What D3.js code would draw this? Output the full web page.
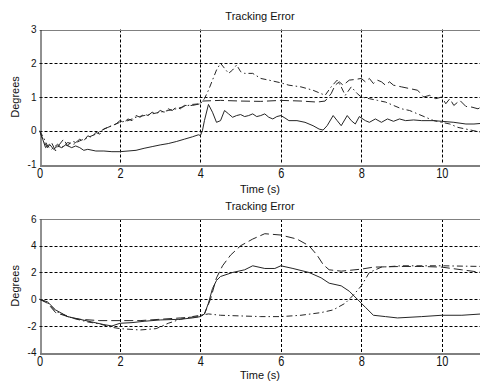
<!DOCTYPE html>
<html><head><meta charset="utf-8">
<script src="https://cdn.jsdelivr.net/npm/d3@7"></script>
<style>body{margin:0;background:#fff}svg{display:block}text{font-family:Arial,"Liberation Sans",sans-serif;fill:#111;font-weight:normal}</style>
</head><body><svg id="c" width="480" height="385"></svg>
<script>
// ---- data ----
const chartTitle = "Tracking Error";
const xLabel = "Time (s)";
const yLabel = "Degrees";
const xTicks = [0, 2, 4, 6, 8, 10];
const topYTicks = [-1, 0, 1, 2, 3];
const botYTicks = [-4, -2, 0, 2, 4, 6];

const topSolid = [[0,0],[0.08,-0.25],[0.15,-0.5],[0.25,-0.4],[0.35,-0.55],[0.45,-0.45],[0.55,-0.5],[0.65,-0.42],[0.8,-0.5],[0.9,-0.45],[1.0,-0.5],[1.1,-0.58],[1.2,-0.55],[1.4,-0.6],[1.6,-0.6],[1.8,-0.62],[2.0,-0.62],[2.2,-0.6],[2.4,-0.58],[2.6,-0.52],[2.8,-0.47],[3.0,-0.42],[3.2,-0.38],[3.4,-0.32],[3.6,-0.25],[3.8,-0.18],[3.95,-0.12],[4.0,-0.14],[4.05,0.0],[4.1,0.3],[4.2,0.78],[4.3,0.55],[4.4,0.25],[4.5,0.3],[4.6,0.6],[4.7,0.5],[4.8,0.4],[4.9,0.45],[5.0,0.48],[5.1,0.42],[5.2,0.45],[5.3,0.5],[5.4,0.42],[5.5,0.45],[5.6,0.5],[5.7,0.4],[5.8,0.35],[5.9,0.42],[6.0,0.45],[6.1,0.38],[6.2,0.3],[6.4,0.3],[6.6,0.25],[6.8,0.15],[6.95,0.05],[7.05,0.02],[7.15,0.15],[7.3,0.45],[7.4,0.3],[7.5,0.15],[7.65,0.45],[7.75,0.3],[7.85,0.2],[7.95,0.42],[8.1,0.3],[8.2,0.25],[8.35,0.35],[8.5,0.25],[8.65,0.35],[8.8,0.28],[8.95,0.35],[9.1,0.3],[9.3,0.32],[9.5,0.3],[9.8,0.3],[10.0,0.28],[10.3,0.25],[10.6,0.2],[10.8,0.2],[11.0,0.22]];
const topDashed = [[0,0],[0.1,-0.3],[0.2,-0.5],[0.3,-0.35],[0.4,-0.6],[0.5,-0.4],[0.6,-0.25],[0.7,-0.45],[0.8,-0.3],[0.9,-0.35],[1.0,-0.25],[1.1,-0.3],[1.2,-0.15],[1.3,-0.2],[1.4,-0.05],[1.5,-0.1],[1.6,0.05],[1.7,0.1],[1.8,0.15],[1.9,0.2],[2.0,0.3],[2.1,0.25],[2.2,0.35],[2.3,0.3],[2.4,0.45],[2.5,0.4],[2.6,0.5],[2.7,0.45],[2.8,0.55],[2.9,0.5],[3.0,0.6],[3.1,0.55],[3.2,0.65],[3.3,0.6],[3.4,0.7],[3.5,0.65],[3.6,0.75],[3.8,0.75],[4.0,0.8],[4.05,0.88],[4.5,0.9],[5.0,0.88],[5.5,0.87],[6.0,0.9],[6.5,0.88],[6.9,0.85],[7.1,0.88],[7.25,1.1],[7.35,1.35],[7.45,1.45],[7.55,1.35],[7.7,1.5],[7.85,1.52],[8.0,1.55],[8.1,1.45],[8.2,1.55],[8.3,1.4],[8.4,1.5],[8.5,1.45],[8.6,1.35],[8.7,1.45],[8.8,1.35],[9.0,1.3],[9.2,1.25],[9.4,1.2],[9.55,1.0],[9.7,1.05],[9.85,0.95],[10.0,1.0],[10.1,0.8],[10.2,0.95],[10.3,0.75],[10.45,0.9],[10.6,0.72],[10.75,0.7],[10.9,0.65],[11.0,0.72]];
const topDashDot = [[0,0],[0.1,-0.2],[0.2,-0.45],[0.3,-0.55],[0.45,-0.4],[0.55,-0.5],[0.7,-0.35],[0.85,-0.4],[1.0,-0.3],[1.2,-0.2],[1.4,-0.1],[1.6,0.05],[1.8,0.15],[2.0,0.25],[2.2,0.3],[2.4,0.4],[2.6,0.45],[2.8,0.5],[3.0,0.55],[3.2,0.6],[3.4,0.65],[3.6,0.72],[3.8,0.78],[4.0,0.8],[4.1,0.95],[4.2,1.2],[4.3,1.5],[4.4,1.8],[4.5,2.0],[4.6,1.85],[4.7,1.7],[4.8,1.8],[4.9,1.95],[5.0,1.75],[5.1,1.7],[5.3,1.7],[5.5,1.55],[5.7,1.5],[6.0,1.42],[6.2,1.35],[6.5,1.3],[6.8,1.2],[7.0,1.1],[7.1,1.05],[7.25,1.3],[7.4,1.5],[7.5,1.3],[7.6,1.05],[7.75,1.3],[7.9,1.1],[8.0,1.0],[8.2,0.95],[8.4,0.9],[8.6,0.85],[8.8,0.75],[9.0,0.65],[9.2,0.6],[9.4,0.5],[9.6,0.4],[9.8,0.3],[10.0,0.25],[10.2,0.2],[10.4,0.1],[10.6,0.05],[10.8,0.0],[11.0,-0.05]];

const botSolid = [[0,0],[0.2,-0.2],[0.4,-0.8],[0.7,-1.3],[1.0,-1.5],[1.3,-1.7],[1.6,-1.9],[1.8,-2.0],[2.0,-1.8],[2.3,-1.75],[2.6,-1.65],[3.0,-1.55],[3.5,-1.5],[3.8,-1.4],[4.0,-1.3],[4.1,-1.1],[4.2,-0.3],[4.3,0.8],[4.4,1.4],[4.5,1.7],[4.8,2.0],[5.1,2.2],[5.3,2.5],[5.6,2.3],[5.85,2.3],[6.0,2.5],[6.3,2.3],[6.7,2.0],[7.0,1.6],[7.2,1.2],[7.5,1.0],[7.7,0.6],[7.9,0.0],[8.1,-0.6],[8.3,-1.2],[8.6,-1.3],[8.9,-1.4],[9.5,-1.3],[10.0,-1.2],[10.5,-1.2],[11.0,-1.1]];
const botDashed = [[0,0],[0.2,-0.3],[0.4,-1.0],[0.8,-1.4],[1.0,-1.5],[1.5,-1.6],[2.0,-1.6],[2.5,-1.6],[3.0,-1.5],[3.5,-1.4],[4.0,-1.3],[4.1,-1.1],[4.25,0.0],[4.4,1.6],[4.55,2.5],[4.75,3.3],[5.0,4.0],[5.3,4.5],[5.6,4.9],[6.0,4.8],[6.4,4.5],[6.7,4.0],[6.9,3.3],[7.05,2.6],[7.2,2.2],[7.5,2.1],[8.0,2.25],[8.3,2.4],[9.0,2.45],[9.5,2.45],[10.0,2.4],[10.5,2.2],[11.0,2.0]];
const botDashDot = [[0,0],[0.2,-0.25],[0.4,-0.9],[0.8,-1.4],[1.2,-1.7],[1.5,-1.85],[1.8,-2.1],[2.0,-2.2],[2.5,-2.3],[2.9,-2.2],[3.2,-1.8],[3.5,-1.5],[3.8,-1.3],[4.0,-1.2],[4.2,-1.1],[4.5,-1.2],[5.0,-1.25],[5.5,-1.3],[6.0,-1.3],[6.5,-1.2],[7.0,-1.0],[7.3,-0.8],[7.6,-0.3],[7.8,0.3],[8.0,1.0],[8.2,2.0],[8.5,2.4],[9.0,2.5],[10.0,2.5],[11.0,2.45]];

// ---- drawing ----
const svg = d3.select("#c");
const xRange = [39.5, 482];
const fontFam = "Arial, 'Liberation Sans', sans-serif";

function panel(top, bottom, yDomain, yTicks, series, titleY, xlabY) {
  const x = d3.scaleLinear().domain([0, 11]).range(xRange);
  const y = d3.scaleLinear().domain(yDomain).range([bottom, top]);
  const g = svg.append("g");
  // grid
  g.selectAll(".vg").data(xTicks.filter(d => d > 0)).join("line")
    .attr("x1", d => Math.round(x(d)) + 0.5).attr("x2", d => Math.round(x(d)) + 0.5)
    .attr("y1", top).attr("y2", bottom)
    .attr("stroke", "#000").attr("stroke-width", 1).attr("stroke-dasharray", "3,2");
  g.selectAll(".hg").data(yTicks.filter(d => d > yDomain[0] && d < yDomain[1])).join("line")
    .attr("y1", d => Math.round(y(d)) + 0.5).attr("y2", d => Math.round(y(d)) + 0.5)
    .attr("x1", xRange[0]).attr("x2", 480)
    .attr("stroke", "#000").attr("stroke-width", 1).attr("stroke-dasharray", "3,2");
  // top border
  g.append("line").attr("x1", xRange[0]).attr("x2", 480).attr("y1", Math.round(top) + 0.5).attr("y2", Math.round(top) + 0.5).attr("stroke", "#808080");
  // series
  const line = d3.line().x(d => x(d[0])).y(d => y(d[1]));
  const clipId = "clip" + Math.round(top);
  svg.append("clipPath").attr("id", clipId).append("rect").attr("x", xRange[0]).attr("y", top).attr("width", 480 - xRange[0]).attr("height", bottom - top);
  series.forEach(s => {
    g.append("path").datum(s.data).attr("d", line).attr("fill", "none")
      .attr("stroke", "#262626").attr("stroke-width", 1)
      .attr("stroke-dasharray", s.dash).attr("clip-path", `url(#${clipId})`);
  });
  // axes
  const fmt = d => String(d);
  const ax = d3.axisBottom(x).tickValues(xTicks).tickSize(0).tickPadding(5).tickFormat(fmt);
  const gx = g.append("g").attr("transform", `translate(0,${Math.round(bottom) + 0.5})`).call(ax);
  gx.select(".domain").attr("stroke", "#000");
  gx.selectAll("text").attr("font-size", 11).attr("font-family", fontFam)
    .attr("fill", "#111").attr("dy", null).attr("y", 0)
    .attr("transform", "translate(0,12.5) scale(1,1.3)");
  const ay = d3.axisLeft(y).tickValues(yTicks).tickSize(0).tickPadding(4).tickFormat(fmt);
  const gy = g.append("g").attr("transform", `translate(${Math.round(xRange[0]) + 0.5},0)`).call(ay);
  gy.select(".domain").attr("stroke", "#222");
  gy.selectAll("text").attr("font-size", 10).attr("font-family", fontFam).attr("fill", "#111");
  // labels
  svg.append("text").attr("x", 260).attr("y", titleY).attr("text-anchor", "middle").attr("font-size", 11).text(chartTitle);
  svg.append("text").attr("x", 260).attr("y", xlabY).attr("text-anchor", "middle").attr("font-size", 11).text(xLabel);
  svg.append("text").attr("transform", `translate(18.5,${(top + bottom) / 2}) rotate(-90)`)
    .attr("text-anchor", "middle").attr("font-size", 11).text(yLabel);
}

panel(29.5, 164.5, [-1, 3], topYTicks, [
  {data: topSolid, dash: null},
  {data: topDashed, dash: "9,4"},
  {data: topDashDot, dash: "6,3,1.5,3"}
], 19.5, 193);
panel(219, 352.7, [-4, 6], botYTicks, [
  {data: botSolid, dash: null},
  {data: botDashed, dash: "9,4"},
  {data: botDashDot, dash: "6,3,1.5,3"}
], 209.5, 378.5);
</script></body></html>
